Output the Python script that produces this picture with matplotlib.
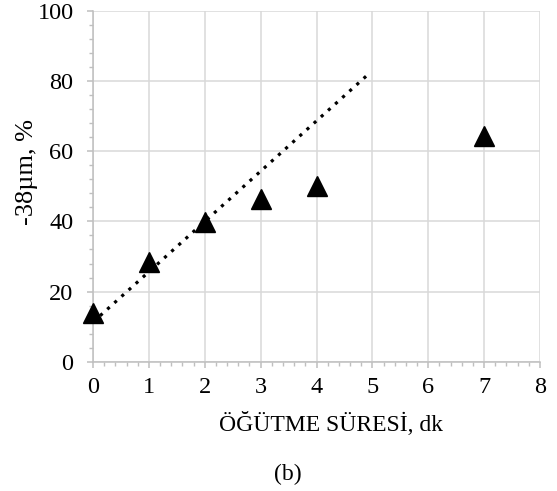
import matplotlib
matplotlib.use("Agg")
import matplotlib.pyplot as plt
from matplotlib.ticker import MultipleLocator

# Data
grind_time = [0, 1, 2, 3, 4, 7]
fines_pct = [14.0, 28.3, 39.8, 46.4, 50.0, 64.3]
trend_x = [0, 4.95]
trend_y = [11.3, 82.3]
x_ticks = [0, 1, 2, 3, 4, 5, 6, 7, 8]
y_ticks = [0, 20, 40, 60, 80, 100]

plt.rcParams['font.family'] = ['Liberation Serif', 'DejaVu Serif']

fig = plt.figure(figsize=(5.57, 4.91), dpi=100)
ax = fig.add_axes([0.167, 0.2633, 0.8025, 0.7143])

grid_c = '#d9d9d9'
ax.set_xlim(0, 8)
ax.set_ylim(0, 100)
ax.set_xticks(x_ticks)
ax.set_yticks(y_ticks)
ax.xaxis.set_minor_locator(MultipleLocator(0.2))
ax.yaxis.set_minor_locator(MultipleLocator(4))
ax.grid(True, which='major', color=grid_c, lw=1.1, zorder=0)
ax.set_axisbelow(True)
for s in ['top', 'right']:
    ax.spines[s].set_visible(False)
for s in ['left', 'bottom']:
    ax.spines[s].set_color('#bfbfbf')
    ax.spines[s].set_linewidth(1.1)
ax.tick_params(which='major', direction='out', length=4, width=1.1, color='#bfbfbf',
               labelsize=17.5)
ax.tick_params(axis='y', which='major', pad=10)
ax.tick_params(axis='x', which='major', pad=7)
ax.tick_params(which='minor', direction='out', length=3, width=1.0, color='#bfbfbf')

ax.plot(trend_x, trend_y, color='black', lw=2.3, linestyle=(0, (1, 2)),
        dash_capstyle='butt', zorder=3)
ax.plot(grind_time, fines_pct, linestyle='none', marker='^', ms=14,
        color='black', zorder=4, clip_on=False)

fig.text(331 / 557, 1 - 431 / 491, 'ÖĞÜTME SÜRESİ, dk', ha='center', va='baseline',
         fontsize=17)
fig.text(27 / 557, 1 - 172 / 491, '-38µm, %', ha='center', va='center',
         rotation=90, fontsize=19)
fig.text(288 / 557, 1 - 474.5 / 491, '(b)', ha='center', va='center', fontsize=17)

fig.savefig('out.png', dpi=100)
